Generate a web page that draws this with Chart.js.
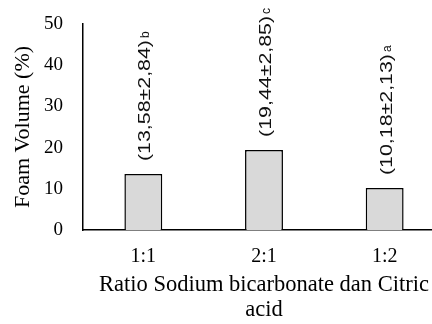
<!DOCTYPE html>
<html>
<head>
  <meta charset="utf-8">
  <title>Foam Volume</title>
  <style>
    html, body {
      margin: 0;
      padding: 0;
      background: #ffffff;
      overflow: hidden;
    }
    .chart-box {
      position: relative;
      width: 446px;
      height: 324px;
    }
  </style>
  <script src="https://cdn.jsdelivr.net/npm/chart.js"></script>
</head>
<body>
  <div class="chart-box">
    <canvas id="chartCanvas" width="446" height="324"></canvas>
  </div>

  <script>
    // Data
    var ratios = ['1:1', '2:1', '1:2'];
    var foamVolume = [13.58, 19.44, 10.18];
    var foamMean = ['13,58', '19,44', '10,18'];
    var foamSd = ['2,84', '2,85', '2,13'];
    var letters = ['b', 'c', 'a'];
    var yTicks = [0, 10, 20, 30, 40, 50];

    var serif = '"Liberation Serif", "Times New Roman", serif';
    var sans = '"Liberation Sans", Arial, sans-serif';

    // Rotated value labels above each bar, with the significance letter
    var barLabels = {
      id: 'barLabels',
      afterDatasetsDraw: function(chart) {
        var ctx = chart.ctx;
        var meta = chart.getDatasetMeta(0);
        meta.data.forEach(function(bar, i) {
          var text = '(' + foamMean[i] + '±' + foamSd[i] + ')';
          ctx.save();
          ctx.translate(bar.x + 7, bar.y - 13);
          ctx.rotate(-Math.PI / 2);
          ctx.fillStyle = '#111';
          ctx.textAlign = 'left';
          ctx.textBaseline = 'alphabetic';
          ctx.font = '17px ' + sans;
          var w = ctx.measureText(text).width;
          var stretch = 121 / w;
          ctx.save();
          ctx.scale(stretch, 1);
          ctx.fillText(text, 0, 0);
          ctx.restore();
          ctx.font = '12px ' + sans;
          ctx.fillText(letters[i], w * stretch + 2, -1);
          ctx.restore();
        });
      }
    };

    var ctx = document.getElementById('chartCanvas').getContext('2d');
    var foamChart = new Chart(ctx, {
      type: 'bar',
      data: {
        labels: ratios,
        datasets: [{
          data: foamVolume,
          backgroundColor: '#d9d9d9',
          borderColor: '#000000',
          borderWidth: 1.5,
          categoryPercentage: 1,
          barPercentage: 0.314
        }]
      },
      options: {
        responsive: false,
        animation: false,
        layout: {
          padding: { left: 0, right: 1, top: 24, bottom: 0 }
        },
        plugins: {
          legend: { display: false },
          tooltip: { enabled: false }
        },
        scales: {
          x: {
            grid: { display: false, drawTicks: false },
            border: { display: true, color: '#000', width: 1.5 },
            ticks: {
              color: '#000',
              padding: 15,
              font: { family: serif, size: 20 }
            },
            title: {
              display: true,
              text: ['Ratio Sodium bicarbonate dan Citric', 'acid'],
              color: '#000',
              font: { family: serif, size: 22.5, lineHeight: 1.1 },
              padding: { top: 0, bottom: 2 }
            },
            afterFit: function(scale) {
              scale.height = 94;
              scale.paddingLeft = 0;
              scale.paddingRight = 0;
            }
          },
          y: {
            min: 0,
            max: 50,
            afterBuildTicks: function(scale) {
              scale.ticks = yTicks.map(function(v) { return { value: v }; });
            },
            grid: { display: false, drawTicks: false },
            border: { display: true, color: '#000', width: 1.5 },
            ticks: {
              color: '#000',
              padding: 20,
              font: { family: serif, size: 19 }
            },
            title: {
              display: true,
              text: 'Foam Volume (%)',
              color: '#000',
              font: { family: serif, size: 22 },
              padding: { top: 10, bottom: 0 }
            },
            afterFit: function(scale) {
              scale.width = 83;
              scale.paddingTop = 0;
              scale.paddingBottom = 0;
            }
          }
        }
      },
      plugins: [barLabels]
    });
  </script>
</body>
</html>
